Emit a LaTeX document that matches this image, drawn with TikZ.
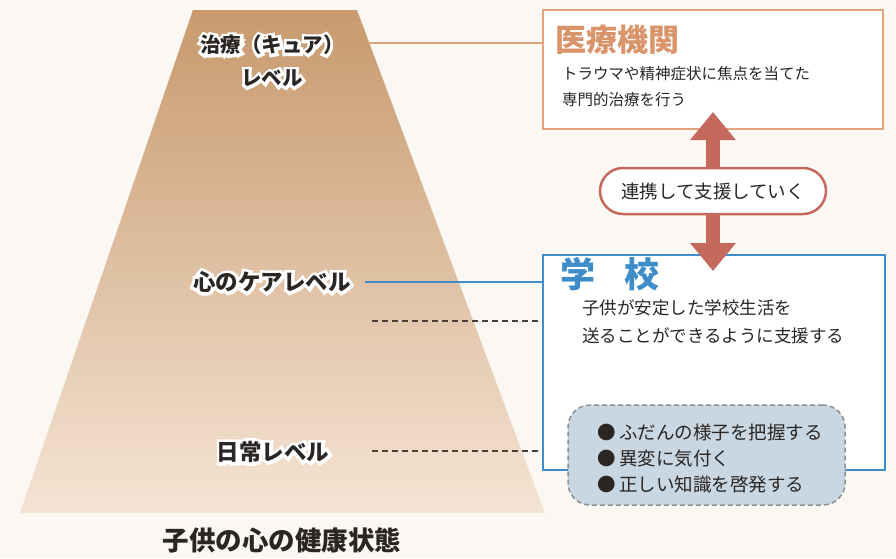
\documentclass[tikz,border=0pt]{standalone}
\usepackage{fontspec}
\setmainfont{Noto Sans CJK JP}
\usetikzlibrary{calc,arrows.meta}
\definecolor{paper}{HTML}{FBF8F3}
\definecolor{tantop}{HTML}{C89A6E}
\definecolor{tanmid}{HTML}{E2C4A5}
\definecolor{tanbot}{HTML}{F4E4D4}
\definecolor{medline}{HTML}{E2A47A}
\definecolor{medtitle}{HTML}{D9946A}
\definecolor{arrred}{HTML}{C4695B}
\definecolor{schblue}{HTML}{3F8DC8}
\definecolor{bubfill}{HTML}{C8D7E2}
\definecolor{bubline}{HTML}{8C9196}
\definecolor{dashdark}{HTML}{4A4039}
\definecolor{txt}{HTML}{2A2624}
\definecolor{halocol}{HTML}{FFFFFF}
\tikzset{
  lab/.style={font=\fontsize{22.5}{26}\selectfont\bfseries, text=txt, align=center, inner sep=0pt},
  medbox/.style={draw=medline, line width=2pt, fill=white, minimum width=340pt, minimum height=119pt, inner sep=0pt},
  schbox/.style={draw=schblue, line width=2pt, fill=white, minimum width=342pt, minimum height=215pt, inner sep=0pt},
  bubble/.style={draw=bubline, dashed, dash pattern=on 5pt off 3pt, line width=1.5pt, fill=bubfill, rounded corners=22pt, minimum width=277pt, minimum height=100pt, inner sep=0pt},
  pillbox/.style={draw=arrred, line width=2.5pt, fill=white, rounded corners=23pt, minimum width=226pt, minimum height=46pt, inner sep=0pt, font=\fontsize{18.5}{20}\selectfont, text=txt},
  body/.style={align=left, inner sep=0pt, text=txt},
  dline/.style={draw=dashdark, line width=2pt, dash pattern=on 6pt off 4pt},
  dblarrow/.style={draw=arrred, line width=14pt, {Triangle[width=44pt,length=28pt]}-{Triangle[width=44pt,length=28pt]}},
}
% text with a white outline: an emboldened white copy centred under the text
\newfontfamily\halofont[FakeBold=28]{Noto Sans CJK JP Bold}
\newcommand\halotxt[1]{\sbox0{#1}\rlap{\makebox[\wd0][c]{\color{halocol}\halofont #1}}\usebox0}
\begin{document}
\begin{tikzpicture}[x=1pt,y=-1pt]
\fill[paper] (0,0) rectangle (896,558);
\useasboundingbox (0,0) rectangle (896,558);
% pyramid
\shade[top color=tantop, middle color=tanmid, bottom color=tanbot] (193,10) -- (357,10) -- (545,513) -- (20,513) -- cycle;
% boxes
\node[medbox] (med) at (713,69.5) {};
\node[schbox] (sch) at (714,362.5) {};
\node[bubble] (bub) at (706.5,455) {};
% titles and texts
\node[anchor=west, inner sep=0pt, text=medtitle, font=\fontsize{31}{34}\selectfont\bfseries] (medt) at (555,40) {医療機関};
\node[body, anchor=north west, font=\fontsize{15.5}{26}\selectfont] (medx) at (562,66) {トラウマや精神症状に焦点を当てた\\専門的治療を行う};
\node[anchor=west, inner sep=0pt, text=schblue, font=\fontsize{35}{38}\selectfont\bfseries] (scht) at (560,274) {学\hspace{0.85em}校};
\node[body, anchor=north west, font=\fontsize{17.5}{28}\selectfont] (schx) at (582,299) {子供が安定した学校生活を\\送ることができるように支援する};
\node[body, anchor=west, font=\fontsize{18.5}{26}\selectfont] (bubx) at (597,458) {●\hspace{0.2em}ふだんの様子を把握する\\●\hspace{0.2em}異変に気付く\\●\hspace{0.2em}正しい知識を啓発する};
% double arrow and pill
\coordinate (atop) at (713,112);
\coordinate (abot) at (713,271);
\draw[dblarrow] (atop) -- (abot);
\node[pillbox] (pill) at (713,191) {連携して支援していく};
% level labels
\node[lab, font=\fontsize{20.5}{33}\selectfont\bfseries] (l1) at (272,61) {\halotxt{治療（キュア）}\\\halotxt{レベル}};
\node[lab] (l2) at (272,282) {\halotxt{心のケアレベル}};
\node[lab] (l3) at (273,452) {\halotxt{日常レベル}};
% connectors
\coordinate (c1) at (368,43);
\draw[medline, line width=2pt] (c1) -- (c1 -| med.west);
\coordinate (c2) at (365,282);
\draw[schblue, line width=2pt] (c2) -- (c2 -| sch.west);
\coordinate (c3) at (372,321);
\draw[dline] (c3) -- (c3 -| sch.west);
\coordinate (c4) at (372,451);
\draw[dline] (c4) -- (c4 -| sch.west);
% caption
\node[inner sep=0pt, text=txt, font=\fontsize{26.5}{30}\selectfont\bfseries] (cap) at (282,540) {子供の心の健康状態};
\end{tikzpicture}
\end{document}
